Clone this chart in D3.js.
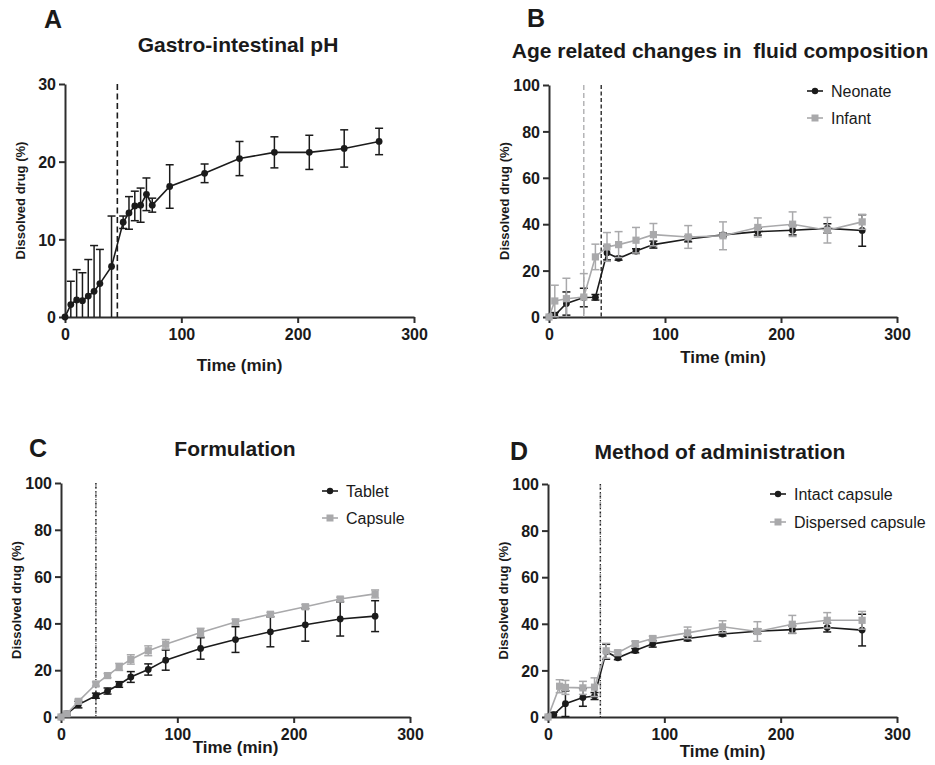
<!DOCTYPE html>
<html>
<head>
<meta charset="utf-8">
<script src="https://cdn.jsdelivr.net/npm/d3@7"></script>
<style>
  html, body { margin: 0; padding: 0; background: #fff; }
  svg { display: block; }
  text { font-family: Arial, "Liberation Sans", Helvetica, sans-serif; }
</style>
</head>
<body>
<svg id="chart" width="935" height="765"></svg>
<script>
// ---- Data ----------------------------------------------------------------
// Panel A: gastro-intestinal pH
const timesA = [0, 5, 10, 15, 20, 25, 30, 40, 50, 55, 60, 65, 70, 75, 90, 120, 150, 180, 210, 240, 270];
const meanA  = [0, 1.6, 2.2, 2.1, 2.7, 3.3, 4.3, 6.5, 12.2, 13.4, 14.3, 14.4, 15.8, 14.4, 16.8, 18.5, 20.4, 21.2, 21.2, 21.7, 22.6];
const sdA    = [0, 3.0, 3.9, 3.6, 4.7, 5.9, 4.4, 6.5, 0.8, 2.1, 1.9, 2.2, 2.1, 0.9, 2.8, 1.2, 2.2, 2.0, 2.2, 2.4, 1.7];

// Panel B: age related changes in fluid composition
const timesB     = [0, 5, 15, 30, 40, 50, 60, 75, 90, 120, 150, 180, 210, 240, 270];
const neonateB   = [0, 0.7, 5.8, 8.4, 8.5, 27.6, 25.3, 28.4, 31.2, 33.6, 35.4, 36.8, 37.4, 38.2, 37.3];
const neonateSdB = [0, 1.2, 5.0, 4.0, 1.2, 3.0, 0.8, 1.0, 1.5, 1.2, 0.8, 1.5, 2.0, 2.0, 6.8];
const infantB    = [0, 6.9, 7.9, 8.6, 25.9, 30.2, 31.2, 33.1, 35.5, 34.5, 35.0, 38.6, 40.0, 37.4, 41.0];
const infantSdB  = [0, 6.8, 8.8, 10.1, 5.5, 6.2, 5.6, 5.5, 4.8, 4.9, 6.0, 4.1, 5.3, 5.5, 3.2];

// Panel C: formulation
const timesC     = [0, 5, 15, 30, 40, 50, 60, 75, 90, 120, 150, 180, 210, 240, 270];
const tabletC    = [0, 1.4, 5.3, 9.1, 11.1, 13.9, 17.1, 20.3, 24.3, 29.3, 33.1, 36.4, 39.4, 41.9, 43.1];
const tabletSdC  = [0, 0.5, 1.4, 1.1, 1.3, 1.2, 2.3, 2.4, 4.3, 4.6, 5.5, 6.4, 7.0, 7.3, 6.6];
const capsuleC   = [0, 1.4, 6.7, 14.1, 17.7, 21.4, 24.6, 28.3, 31.1, 36.1, 40.6, 43.9, 47.1, 50.4, 52.6];
const capsuleSdC = [0, 0.4, 0.9, 0.9, 0.9, 1.5, 2.0, 2.1, 2.0, 1.8, 1.2, 0.8, 1.0, 0.8, 1.7];

// Panel D: method of administration
const timesIntactD    = [0, 5, 15, 30, 40, 50, 60, 75, 90, 120, 150, 180, 210, 240, 270];
const intactD         = [0, 1.0, 5.7, 8.4, 9.0, 28.0, 25.4, 28.5, 31.4, 33.7, 35.6, 36.8, 37.5, 38.4, 37.3];
const intactSdD       = [0, 1.0, 5.5, 3.8, 1.5, 3.2, 0.8, 0.9, 1.4, 1.0, 0.8, 1.0, 1.6, 1.9, 6.8];
const timesDispersedD = [0, 10, 15, 30, 40, 50, 60, 75, 90, 120, 150, 180, 210, 240, 270];
const dispersedD      = [0, 13.2, 12.7, 12.5, 12.8, 28.4, 27.6, 31.5, 33.7, 36.1, 38.7, 36.7, 39.8, 41.5, 41.5];
const dispersedSdD    = [0, 2.8, 3.0, 2.8, 4.0, 3.2, 1.0, 1.0, 1.0, 2.5, 2.6, 4.2, 3.8, 3.3, 3.8];

const xTicks     = [0, 100, 200, 300];
const yTicksA    = [0, 10, 20, 30];
const yTicksPct  = [0, 20, 40, 60, 80, 100];

// ---- Styles ----------------------------------------------------------------
const BLACK = "#1b1b1b";
const GREY  = "#a9a9ab";
const AXIS  = "#2e2e2e";

const svg = d3.select("#chart");

const zip = (t, m, s) => t.map((x, i) => ({ t: x, v: m[i], e: s[i] }));

function drawPanel(cfg) {
  const x = d3.scaleLinear().domain([0, 300]).range([cfg.x0, cfg.x1]);
  const y = d3.scaleLinear().domain([0, cfg.yMax]).range([cfg.yBottom, cfg.yTop]);
  const g = svg.append("g");

  // panel letter and title
  g.append("text").attr("x", cfg.letterX).attr("y", cfg.letterY)
    .attr("font-size", 25).attr("font-weight", "bold").attr("fill", "#1a1a1a").text(cfg.letter);
  g.append("text").attr("x", cfg.titleX).attr("y", cfg.titleY).attr("text-anchor", "middle")
    .attr("font-size", 21).attr("font-weight", "bold").attr("fill", "#1a1a1a").text(cfg.title);

  // axes
  const yAxis = d3.axisLeft(y).tickValues(cfg.yTicks).tickSize(6).tickSizeOuter(0).tickPadding(3);
  const xAxis = d3.axisBottom(x).tickValues(xTicks).tickSize(6).tickSizeOuter(0).tickPadding(3);
  const ya = g.append("g").attr("transform", `translate(${cfg.x0},0)`).call(yAxis);
  const xa = g.append("g").attr("transform", `translate(0,${cfg.yBottom})`).call(xAxis);
  [ya, xa].forEach(a => {
    a.select(".domain").attr("stroke", AXIS).attr("stroke-width", 2);
    a.selectAll(".tick line").attr("stroke", AXIS).attr("stroke-width", 2);
    a.selectAll(".tick text").attr("font-size", 16).attr("font-weight", "bold")
      .attr("fill", "#1a1a1a").attr("font-family", "Arial, 'Liberation Sans', sans-serif");
  });
  ya.selectAll(".tick text").attr("dy", "0.36em");
  xa.selectAll(".tick text").attr("dy", "0.85em");

  g.append("text")
    .attr("transform", `translate(${cfg.x0 - 45},${(cfg.yTop + cfg.yBottom) / 2}) rotate(-90)`)
    .attr("text-anchor", "middle").attr("dy", "0.35em")
    .attr("font-size", 13).attr("font-weight", "bold").attr("fill", "#1a1a1a")
    .text("Dissolved drug (%)");
  g.append("text")
    .attr("x", (cfg.x0 + cfg.x1) / 2).attr("y", cfg.yBottom + cfg.xLabelGap)
    .attr("text-anchor", "middle")
    .attr("font-size", 17).attr("font-weight", "bold").attr("fill", "#1a1a1a")
    .text("Time (min)");

  // reference lines
  cfg.vlines.forEach(v => {
    g.append("line")
      .attr("x1", x(v.t)).attr("x2", x(v.t))
      .attr("y1", cfg.yTop).attr("y2", cfg.yBottom)
      .attr("stroke", v.color).attr("stroke-width", v.width)
      .attr("stroke-dasharray", v.dash);
  });

  // series
  const clipY = val => y(Math.max(0, Math.min(cfg.yMax, val)));
  cfg.series.forEach(s => {
    const sg = g.append("g");
    const line = d3.line().x(d => x(d.t)).y(d => y(d.v));
    // error bars
    s.data.filter(d => d.e > 0).forEach(d => {
      const xc = x(d.t), top = clipY(d.v + d.e), bot = clipY(d.v - d.e);
      sg.append("line").attr("x1", xc).attr("x2", xc).attr("y1", top).attr("y2", bot)
        .attr("stroke", s.color).attr("stroke-width", 1.5);
      sg.append("line").attr("x1", xc - 4).attr("x2", xc + 4).attr("y1", top).attr("y2", top)
        .attr("stroke", s.color).attr("stroke-width", 1.5);
      if (d.v - d.e > 0) {
        sg.append("line").attr("x1", xc - 4).attr("x2", xc + 4).attr("y1", bot).attr("y2", bot)
          .attr("stroke", s.color).attr("stroke-width", 1.5);
      }
    });
    sg.append("path").datum(s.data).attr("d", line)
      .attr("fill", "none").attr("stroke", s.color).attr("stroke-width", 1.6);
    if (s.shape === "circle") {
      sg.selectAll("circle").data(s.data).join("circle")
        .attr("cx", d => x(d.t)).attr("cy", d => y(d.v)).attr("r", 3.4).attr("fill", s.color);
    } else {
      sg.selectAll("rect").data(s.data).join("rect")
        .attr("x", d => x(d.t) - 3.6).attr("y", d => y(d.v) - 3.6)
        .attr("width", 7.2).attr("height", 7.2).attr("fill", s.color);
    }
  });

  // legend
  if (cfg.legend) {
    const L = cfg.legend;
    cfg.series.forEach((s, i) => {
      const ly = L.y + i * L.gap;
      g.append("line").attr("x1", L.x).attr("x2", L.x + 16).attr("y1", ly).attr("y2", ly)
        .attr("stroke", s.color).attr("stroke-width", 1.6);
      if (s.shape === "circle") {
        g.append("circle").attr("cx", L.x + 8).attr("cy", ly).attr("r", 3.2).attr("fill", s.color);
      } else {
        g.append("rect").attr("x", L.x + 4.5).attr("y", ly - 3.5).attr("width", 7).attr("height", 7).attr("fill", s.color);
      }
      g.append("text").attr("x", L.x + 24).attr("y", ly).attr("dy", "0.36em")
        .attr("font-size", 16).attr("fill", "#1a1a1a").text(s.name);
    });
  }
}

// dashed grey guide overlaid with a dotted black guide
const pairedGuides = t => [
  { t, color: "#9a9a9c", width: 1.6, dash: "6,3" },
  { t, color: BLACK, width: 1.2, dash: "1.2,2.8" }
];

drawPanel({
  letter: "A", letterX: 44, letterY: 28,
  title: "Gastro-intestinal pH", titleX: 238, titleY: 52,
  x0: 65, x1: 414, yTop: 84, yBottom: 317, yMax: 30, yTicks: yTicksA, xLabelGap: 54,
  vlines: [{ t: 45, color: BLACK, width: 1.6, dash: "6,3.5" }],
  series: [{ name: "pH", color: BLACK, shape: "circle", data: zip(timesA, meanA, sdA) }]
});

drawPanel({
  letter: "B", letterX: 527, letterY: 27,
  title: "Age related changes in\u00a0 fluid composition", titleX: 720, titleY: 58,
  x0: 549, x1: 897, yTop: 85, yBottom: 317, yMax: 100, yTicks: yTicksPct, xLabelGap: 46,
  vlines: [
    { t: 30, color: GREY, width: 1.3, dash: "5,3" },
    { t: 45, color: BLACK, width: 1.3, dash: "4,2.5" }
  ],
  legend: { x: 807, y: 91, gap: 27 },
  series: [
    { name: "Neonate", color: BLACK, shape: "circle", data: zip(timesB, neonateB, neonateSdB) },
    { name: "Infant", color: GREY, shape: "square", data: zip(timesB, infantB, infantSdB) }
  ]
});

drawPanel({
  letter: "C", letterX: 29, letterY: 457,
  title: "Formulation", titleX: 235, titleY: 456,
  x0: 61, x1: 410, yTop: 483, yBottom: 717, yMax: 100, yTicks: yTicksPct, xLabelGap: 36,
  vlines: pairedGuides(30),
  legend: { x: 322, y: 491, gap: 27 },
  series: [
    { name: "Tablet", color: BLACK, shape: "circle", data: zip(timesC, tabletC, tabletSdC) },
    { name: "Capsule", color: GREY, shape: "square", data: zip(timesC, capsuleC, capsuleSdC) }
  ]
});

drawPanel({
  letter: "D", letterX: 510, letterY: 460,
  title: "Method of administration", titleX: 720, titleY: 459,
  x0: 548, x1: 897, yTop: 484, yBottom: 717, yMax: 100, yTicks: yTicksPct, xLabelGap: 40,
  vlines: pairedGuides(45),
  legend: { x: 770, y: 494, gap: 28 },
  series: [
    { name: "Intact capsule", color: BLACK, shape: "circle", data: zip(timesIntactD, intactD, intactSdD) },
    { name: "Dispersed capsule", color: GREY, shape: "square", data: zip(timesDispersedD, dispersedD, dispersedSdD) }
  ]
});
</script>
</body>
</html>
